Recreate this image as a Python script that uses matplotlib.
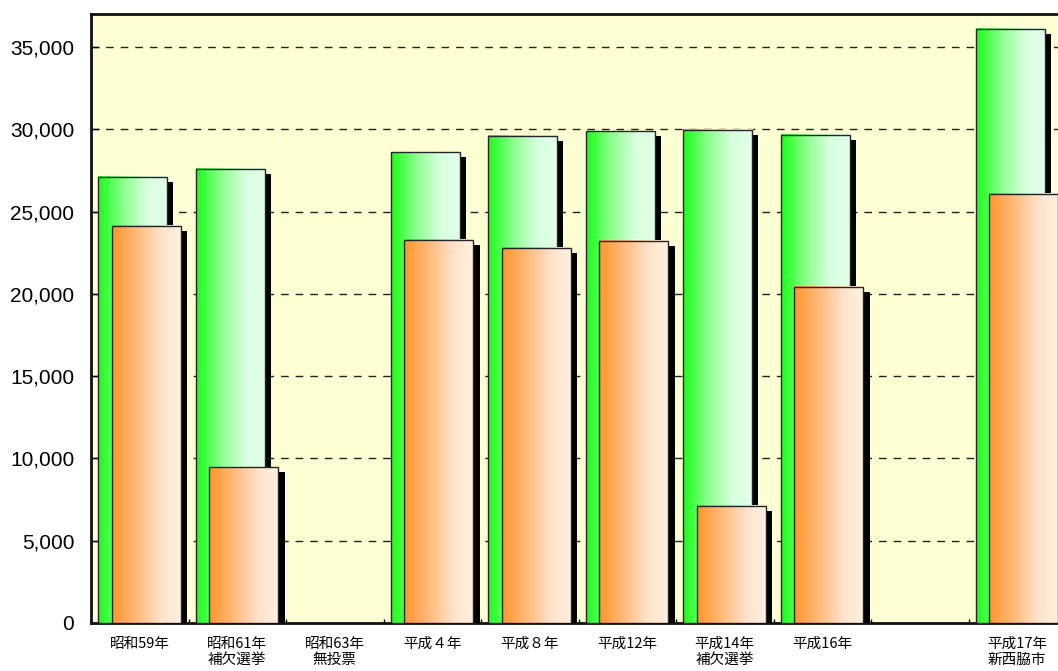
import numpy as np
import matplotlib
matplotlib.use("Agg")
import matplotlib.pyplot as plt
from matplotlib.patches import Rectangle

plt.rcParams["font.family"] = ["Noto Sans CJK JP", "DejaVu Sans"]

# 選挙ごとの有権者数と投票者数
labels = ["昭和59年", "昭和61年\n補欠選挙", "昭和63年\n無投票", "平成４年", "平成８年",
          "平成12年", "平成14年\n補欠選挙", "平成16年", "", "平成17年\n新西脇市"]
electorate = [27100, 27590, 0, 28600, 29590, 29880, 29955, 29650, 0, 36090]
voters = [24120, 9470, 0, 23270, 22785, 23210, 7110, 20415, 0, 26070]

y_ticks = [0, 5000, 10000, 15000, 20000, 25000, 30000, 35000]

green_ramp = [(0.0, (25, 255, 25)), (0.35, (140, 255, 140)),
              (0.7, (215, 255, 222)), (1.0, (228, 255, 235))]
orange_ramp = [(0.0, (255, 150, 45)), (0.35, (255, 186, 122)),
               (0.7, (255, 226, 202)), (1.0, (255, 241, 226))]


def ramp_image(ramp, n=64):
    t = np.linspace(0, 1, n)
    pos = [p for p, _ in ramp]
    cols = np.array([c for _, c in ramp], dtype=float) / 255
    rgb = np.stack([np.interp(t, pos, cols[:, k]) for k in range(3)], axis=-1)
    return rgb[np.newaxis, :, :]


def gradient_bar(ax, x0, width, height, ramp, z):
    if height <= 0:
        return
    # 影
    ax.add_patch(Rectangle((x0 + 0.062, 0), width, height - 300,
                           facecolor="black", edgecolor="none", zorder=z))
    ax.imshow(ramp_image(ramp), extent=[x0, x0 + width, 0, height],
              aspect="auto", interpolation="bilinear", zorder=z + 0.1)
    ax.add_patch(Rectangle((x0, 0), width, height, facecolor="none",
                           edgecolor="#262626", linewidth=1.0, zorder=z + 0.2))


fig = plt.figure(figsize=(10.58, 6.71), dpi=100)
ax = fig.add_axes([91 / 1058, 48 / 671, 975 / 1058, 609 / 671])
ax.set_facecolor("#FFFFD4")

bar_w = 0.708
for i in range(len(labels)):
    gradient_bar(ax, i + 0.072, bar_w, electorate[i], green_ramp, 3)
    gradient_bar(ax, i + 0.215, bar_w, voters[i], orange_ramp, 5)

ax.set_xlim(0, len(labels))
ax.set_ylim(0, 37000)

ax.set_yticks(y_ticks)
ax.set_yticklabels([f"{v:,}" for v in y_ticks], family="Liberation Sans", fontsize=15)
ax.tick_params(axis="y", direction="in", length=6, width=1, pad=12)

ax.set_xticks(np.arange(0, len(labels) + 1))
ax.set_xticklabels([])
ax.set_xticks(np.arange(len(labels)) + 0.5, minor=True)
ax.set_xticklabels(labels, minor=True, fontsize=10.5, linespacing=1.15)
ax.tick_params(axis="x", which="minor", length=0, pad=10)
ax.tick_params(axis="x", which="major", direction="in", length=3, width=1)

for v in y_ticks[1:]:
    ax.axhline(v, color="#222222", linewidth=1, linestyle=(0, (5.5, 5)), zorder=1)

for side in ["left", "top", "bottom", "right"]:
    ax.spines[side].set_linewidth(2)
    ax.spines[side].set_color("#111111")

fig.savefig("out.png", dpi=100)
